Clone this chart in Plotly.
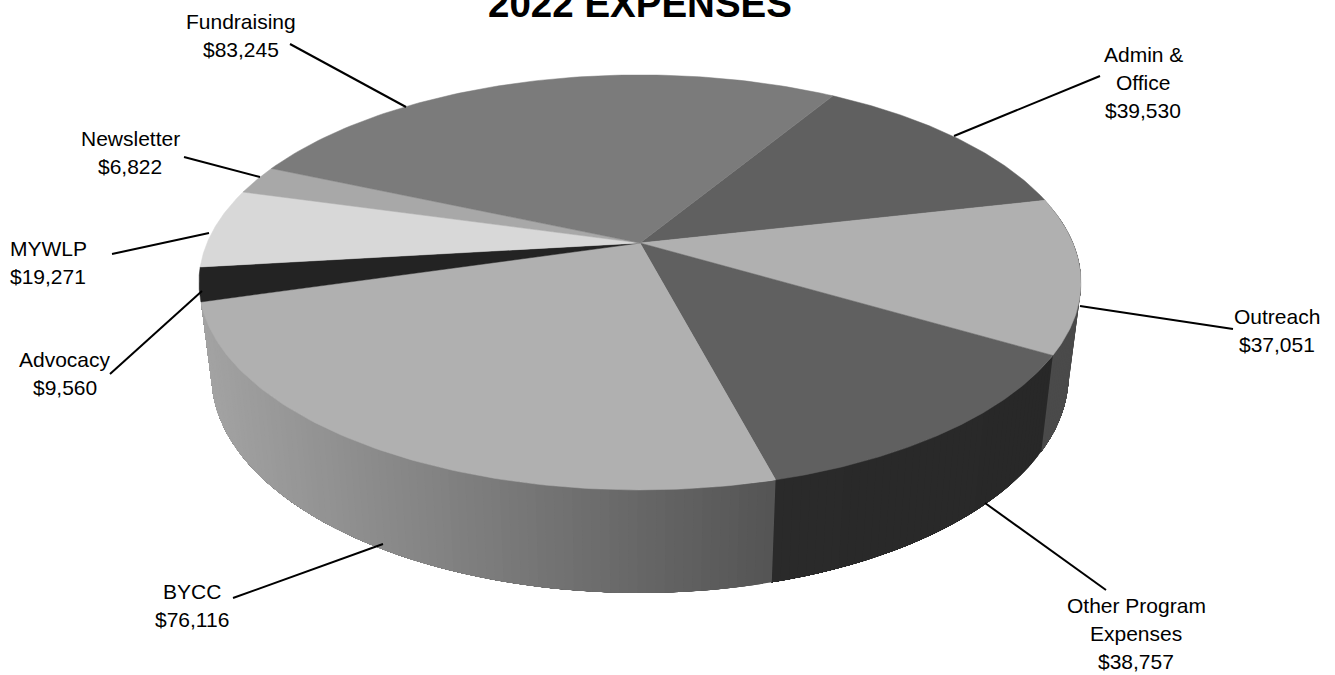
import numpy as np
import plotly.graph_objects as go

# ---- data (clockwise from the Admin slice) ----
categories = ["Admin &<br>Office", "Outreach", "Other Program<br>Expenses", "BYCC",
              "Advocacy", "MYWLP", "Newsletter", "Fundraising"]
values = [39530, 37051, 38757, 76116, 9560, 19271, 6822, 83245]

# ---- style ----
top_colors = [0x60, 0xB0, 0x60, 0xB0, 0x23, 0xD8, 0xA8, 0x7B]
# side wall shade at the clockwise start / end of each slice (None = wall not seen)
side_from = [None, 0x4A, 0x28, 0x54, None, None, None, None]
side_to = [None, 0x4A, 0x2A, 0xA3, None, None, None, None]

# ---- projection of the tilted disc into the page ----
START = 30.0
# small per-slice correction (degrees) of the foreshortened slice ends
END_TRIM = [1.3, 1.7, 1.4, 1.6, 0.1, 0.0, 0.2, 1.2]
CX, CY, AX, BY, K = 640.0, 243.0, 433.0, 200.0, 0.19
BOTTOM_SX, BOTTOM_SY, BOTTOM_DY = 0.972, 1.05, 78.5
LINE_GAP = 28


def top_xy(deg):
    t = np.radians(deg)
    u, v = np.sin(t), np.cos(t)
    d = 1 + K * v
    return CX + AX * u / d, CY - BY * v / d


def bottom_xy(deg):
    x, y = top_xy(deg)
    return CX + BOTTOM_SX * (x - CX), BOTTOM_SY * y + BOTTOM_DY


def gray(g):
    g = int(round(g))
    return f"rgb({g},{g},{g})"


shares = np.array(values) / sum(values) * 360
ends = START + np.cumsum(shares) + np.array(END_TRIM)
starts = np.r_[ends[-1] - 360, ends[:-1]]

fig = go.Figure()


def polygon(xs, ys, color, name, extra="", width=0.0):
    fig.add_trace(go.Scatter(
        x=xs, y=ys, mode="lines", fill="toself", fillcolor=color,
        line=dict(color=color, width=width), name=name, showlegend=False,
        hoverinfo="text", text=extra, hoveron="fills"))


names = [c.replace("<br>", " ") for c in categories]

# side wall: each strip reaches to the slice end and the next one paints over it,
# so the shade runs along the wall without seams
for i, (a0, a1) in enumerate(zip(starts, ends)):
    if side_from[i] is None:
        continue
    marks = np.linspace(a0, a1, max(2, int(a1 - a0)) + 1)
    x_first = bottom_xy(a0)[0]
    x_last = bottom_xy(a1)[0]
    for s0, s1 in zip(marks[:-1], marks[1:]):
        arc = np.linspace(s0, a1, max(3, int((a1 - s0) / 2) + 2))
        tx, ty = top_xy(arc)
        bx, by = bottom_xy(arc)
        f = np.clip((bottom_xy((s0 + s1) / 2)[0] - x_first) / (x_last - x_first), 0, 1)
        g = side_from[i] + (side_to[i] - side_from[i]) * f
        polygon(np.r_[tx, bx[::-1], tx[0]], np.r_[ty, by[::-1], ty[0]], gray(g),
                names[i], f"{names[i]}: ${values[i]:,}")

# top faces
for i, (a0, a1) in enumerate(zip(starts, ends)):
    arc = np.linspace(a0, a1, 90)
    ax_, ay_ = top_xy(arc)
    polygon(np.r_[CX, ax_, CX], np.r_[CY, ay_, CY], gray(top_colors[i]),
            names[i], f"{names[i]}: ${values[i]:,}", width=0.5)

# labels, one annotation per line to hold the reference's line spacing
label_pos = [(1143, 82), (1277, 330), (1136, 633), (192, 605),
             (65, 373), (48, 262), (130, 152), (241, 35)]
for cat, val, (lx, ly) in zip(categories, values, label_pos):
    lines = cat.split("<br>") + [f"${val:,}"]
    for j, line in enumerate(lines):
        fig.add_annotation(x=lx, y=ly + (j - (len(lines) - 1) / 2) * LINE_GAP, text=line,
                           showarrow=False, xanchor="center", yanchor="middle", align="center",
                           font=dict(family="Liberation Sans, Arial", size=21, color="#000"))

leaders = [((1100, 76), (954, 136)), ((1233, 329), (1080, 306)), ((1106, 590), (985, 503)),
           ((233, 598), (383, 544)), ((110, 374), (202, 291)), ((112, 254), (209, 233)),
           ((184, 157), (260, 177)), ((290, 44), (406, 107))]
for (p, q) in leaders:
    fig.add_shape(type="line", x0=p[0], y0=p[1], x1=q[0], y1=q[1],
                  line=dict(color="#000", width=2))

fig.update_layout(
    width=1335, height=675,
    margin=dict(l=0, r=0, t=0, b=0),
    paper_bgcolor="#fff", plot_bgcolor="#fff",
    showlegend=False,
    title=dict(text="<b>2022 EXPENSES</b>", x=640 / 1335, xanchor="center",
               y=1 - 17 / 675, yanchor="bottom", yref="paper",
               font=dict(family="Liberation Sans, Arial", size=38.5, color="#000")),
    xaxis=dict(range=[0, 1335], visible=False, fixedrange=True),
    yaxis=dict(range=[675, 0], visible=False, fixedrange=True),
)

fig.write_html("out.html", config=dict(displayModeBar=False),
               post_script="document.body.style.margin='0';")
